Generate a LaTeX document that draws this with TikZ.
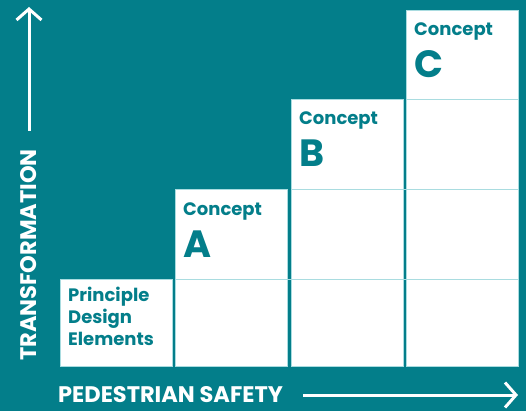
\documentclass[tikz,border=0pt]{standalone}
\usepackage{fontspec}
\setmainfont{Poppins}
\usepackage{tikz}
\usetikzlibrary{arrows.meta, positioning}
\definecolor{colorTeal}{HTML}{037E8A}
\definecolor{colorGrid}{HTML}{A9DCE0}
\tikzset{
  bar/.style={draw=colorGrid, line width=0.6pt, fill=white, anchor=north west, minimum width=112pt, inner sep=0pt},
  concept/.style={anchor=base west, inner sep=0pt, text=colorTeal, font=\bfseries\fontsize{18}{18}\selectfont},
  letter/.style={anchor=base west, inner sep=0pt, text=colorTeal, font=\bfseries\fontsize{38}{38}\selectfont},
  axis/.style={white, line width=3pt, -{Straight Barb[length=11pt, width=25pt, line width=3pt]}},
  axislabel/.style={white, inner sep=0pt, font=\bfseries\fontsize{22.5}{22.5}\selectfont}
}
\begin{document}
\begin{tikzpicture}[x=1pt, y=-1pt]
\fill[colorTeal] (0,0) rectangle (526,411);
\useasboundingbox (0,0) rectangle (526,411);
% bars
\node[bar, minimum height=87pt] (pde) at (60,279) {};
\node[bar, minimum height=177pt] (ca) at (175,189) {};
\node[bar, minimum height=267pt] (cb) at (291,99) {};
\node[bar, minimum height=356pt] (cc) at (406,10) {};
% grid lines
\draw[colorGrid, line width=0.6pt] (ca.west |- pde.north) -- (cc.east |- pde.north);
\draw[colorGrid, line width=0.6pt] (cb.west |- ca.north) -- (cc.east |- ca.north);
\draw[colorGrid, line width=0.6pt] (cc.west |- cb.north) -- (cc.east |- cb.north);
% labels
\node[concept, anchor=north west, align=left, font=\bfseries\fontsize{18}{22}\selectfont] (pdelabel) at ([shift={(8,8)}]pde.north west) {Principle\\Design\\Elements};
\node[concept] (calabel) at ([shift={(8,26)}]ca.north west) {Concept};
\node[letter] (caletter) at ([shift={(8,68)}]ca.north west) {A};
\node[concept] (cblabel) at ([shift={(8,26)}]cb.north west) {Concept};
\node[letter] (cbletter) at ([shift={(8,68)}]cb.north west) {B};
\node[concept] (cclabel) at ([shift={(8,26)}]cc.north west) {Concept};
\node[letter] (ccletter) at ([shift={(8,68)}]cc.north west) {C};
% axes
\node[axislabel, rotate=90] (ylabel) at (29,255) {TRANSFORMATION};
\node[axislabel, anchor=west] (xlabel) at (58,395) {PEDESTRIAN SAFETY};
\coordinate (ystart) at (29,131);
\coordinate (yend) at (29,7);
\coordinate (xstart) at (303,395);
\coordinate (xend) at (518,395);
\draw[axis] (ystart) -- (yend);
\draw[axis] (xstart) -- (xend);
\end{tikzpicture}
\end{document}
